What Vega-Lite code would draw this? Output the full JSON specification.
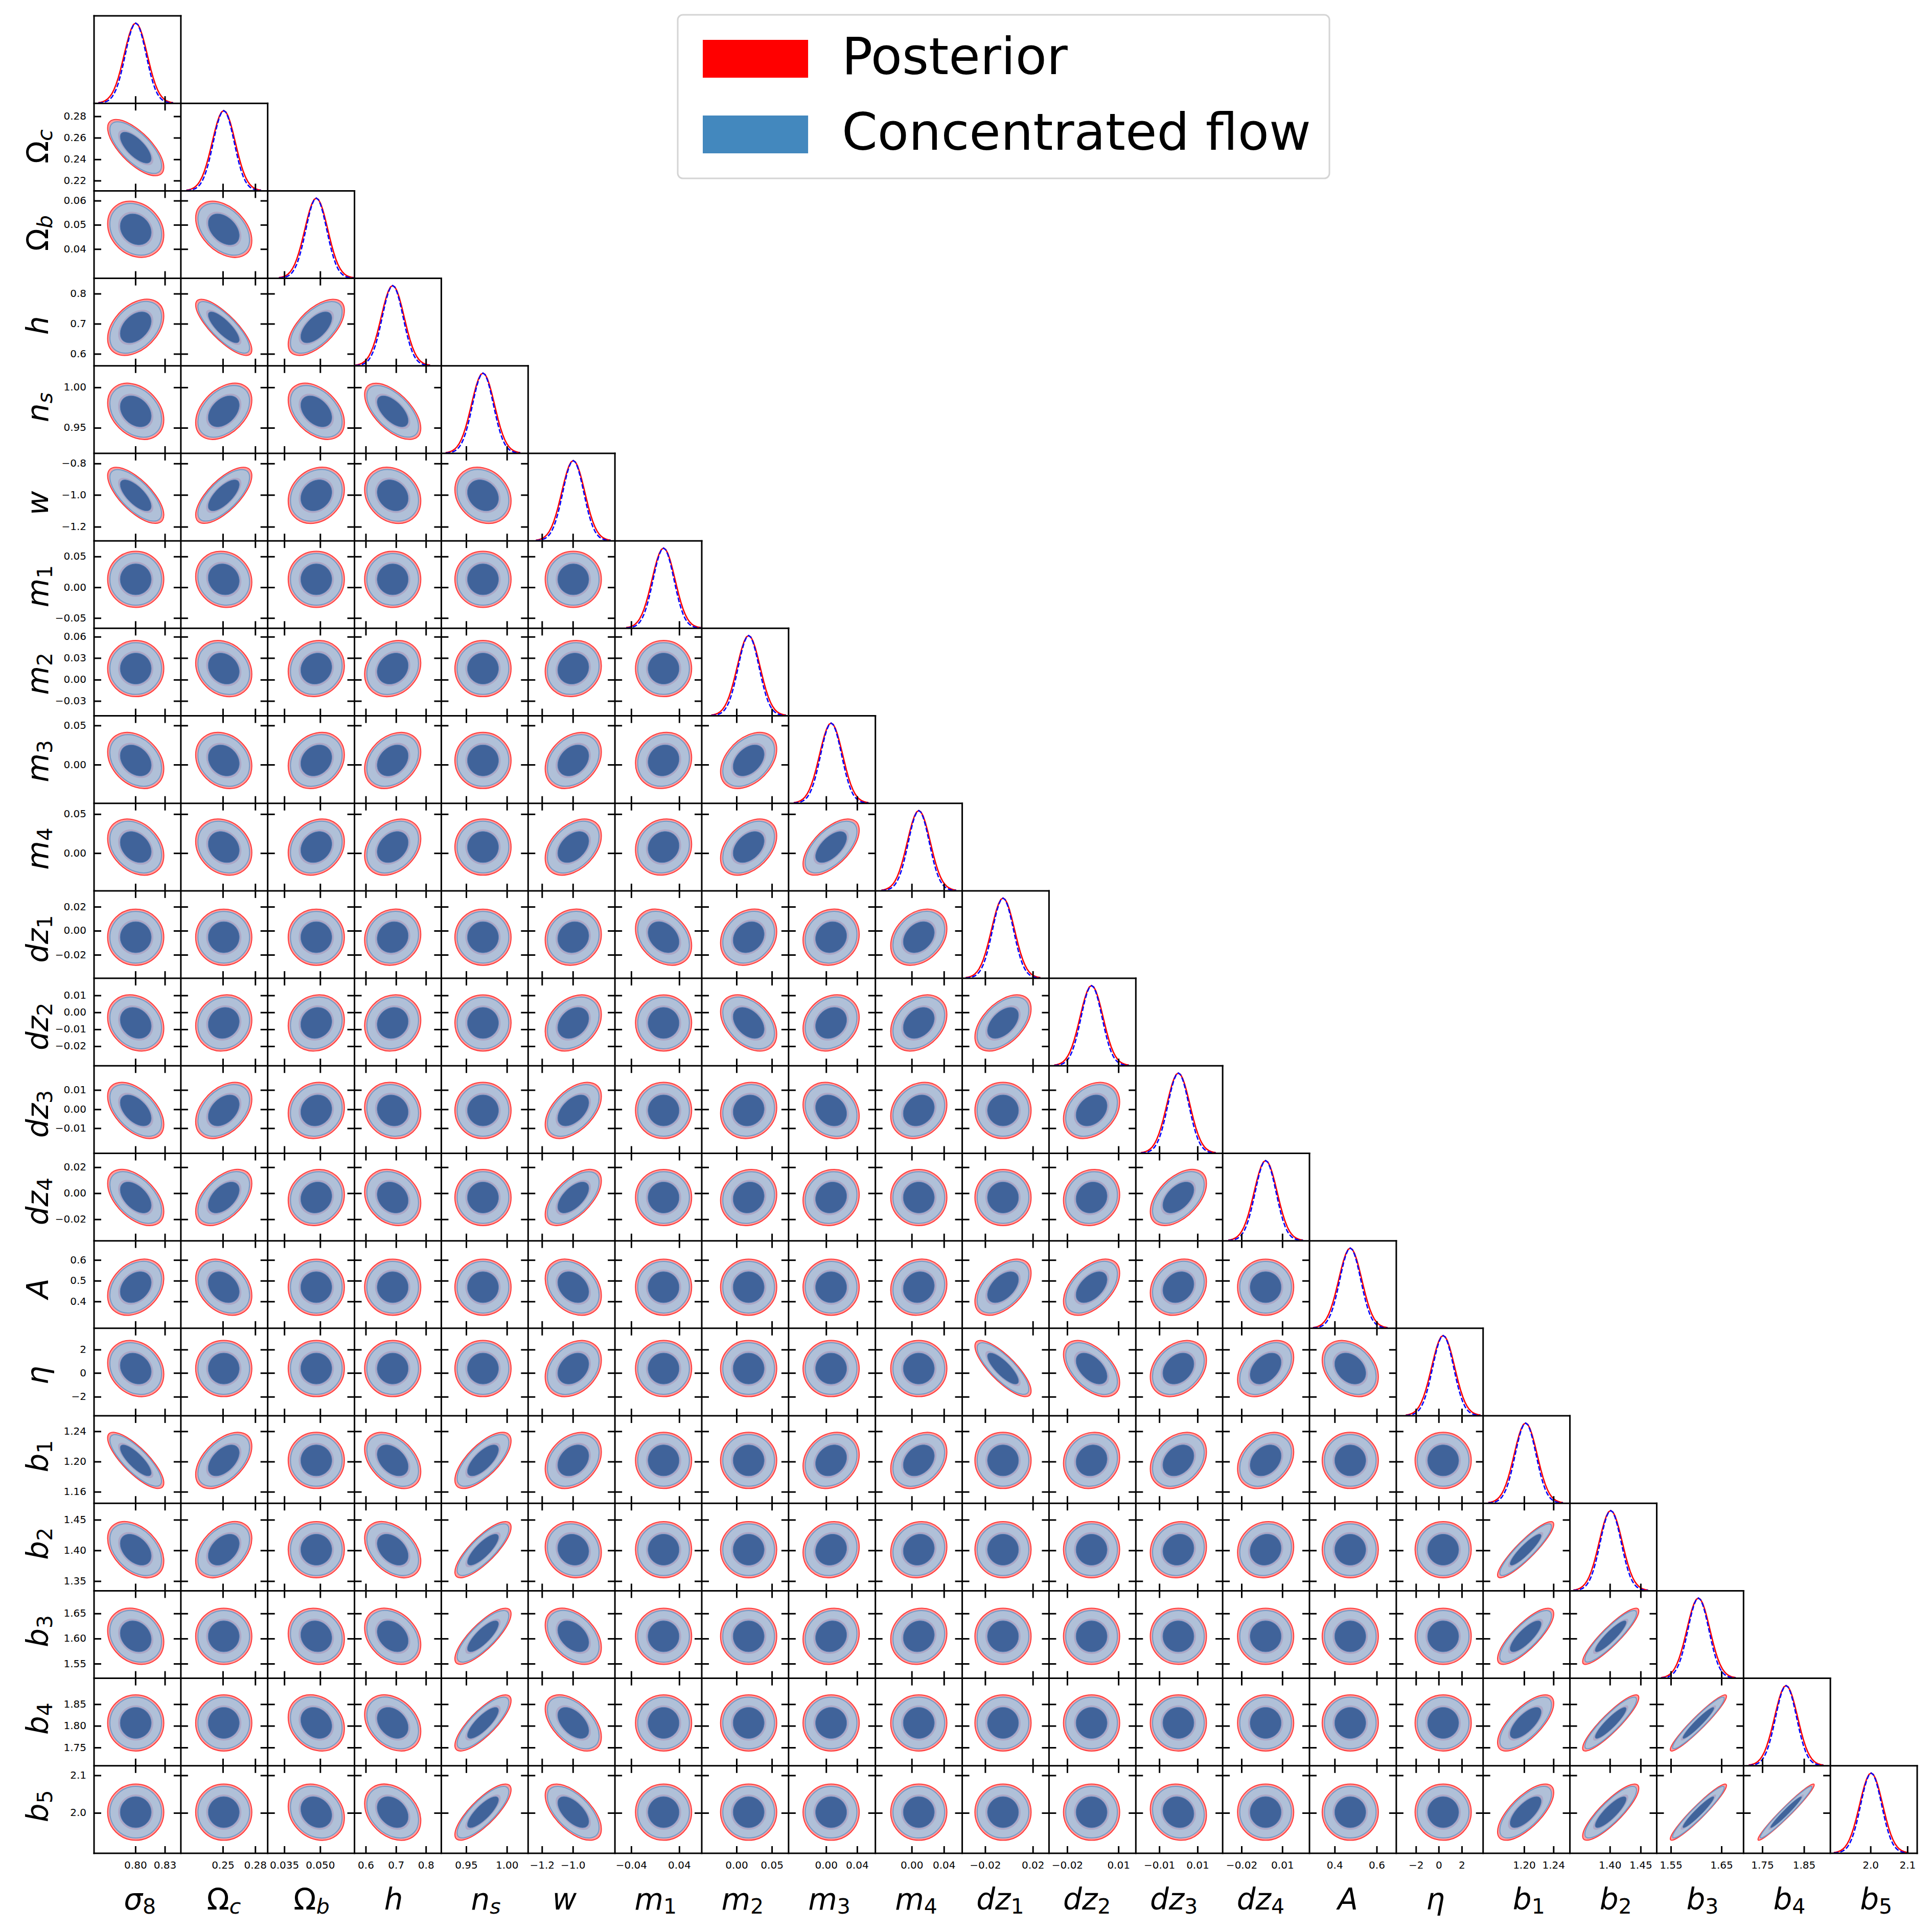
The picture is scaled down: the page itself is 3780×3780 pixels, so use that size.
{
"$schema":"https://vega.github.io/schema/vega-lite/v6.json",
"width":3567,"height":3595,
"autosize":{"type":"none"},
"padding":{"left":184,"top":31,"right":29,"bottom":154},
"background":"white",
"config":{"view":{"stroke":null},"legend":{"strokeWidth":3}},
"datasets":{
"cells":[
{"x":0.48,"y":1.506,"k":-0.7},
{"x":0.48,"y":2.44,"k":-0.2},{"x":1.494,"y":2.44,"k":-0.4},
{"x":0.48,"y":3.56,"k":0.4},{"x":1.494,"y":3.56,"k":-0.8},{"x":2.56,"y":3.56,"k":0.6},
{"x":0.48,"y":4.52,"k":-0.3},{"x":1.494,"y":4.52,"k":0.4},{"x":2.56,"y":4.52,"k":-0.4},{"x":3.44,"y":4.52,"k":-0.6},
{"x":0.48,"y":5.48,"k":-0.7},{"x":1.494,"y":5.48,"k":0.7},{"x":2.56,"y":5.48,"k":0.2},{"x":3.44,"y":5.48,"k":-0.2},{"x":4.48,"y":5.48,"k":-0.2},
{"x":0.48,"y":6.44,"k":0},{"x":1.494,"y":6.44,"k":-0.1},{"x":2.56,"y":6.44,"k":0},{"x":3.44,"y":6.44,"k":0},{"x":4.48,"y":6.44,"k":0},{"x":5.52,"y":6.44,"k":0},
{"x":0.48,"y":7.46,"k":0},{"x":1.494,"y":7.46,"k":-0.2},{"x":2.56,"y":7.46,"k":0.1},{"x":3.44,"y":7.46,"k":0.2},{"x":4.48,"y":7.46,"k":0},{"x":5.52,"y":7.46,"k":0.1},{"x":6.56,"y":7.46,"k":0},
{"x":0.48,"y":8.51,"k":-0.3},{"x":1.494,"y":8.51,"k":-0.2},{"x":2.56,"y":8.51,"k":0.2},{"x":3.44,"y":8.51,"k":0.3},{"x":4.48,"y":8.51,"k":0},{"x":5.52,"y":8.51,"k":0.3},{"x":6.56,"y":8.51,"k":0.1},{"x":7.54,"y":8.51,"k":0.4},
{"x":0.48,"y":9.5,"k":-0.3},{"x":1.494,"y":9.5,"k":-0.2},{"x":2.56,"y":9.5,"k":0.2},{"x":3.44,"y":9.5,"k":0.3},{"x":4.48,"y":9.5,"k":0},{"x":5.52,"y":9.5,"k":0.4},{"x":6.56,"y":9.5,"k":0.1},{"x":7.54,"y":9.5,"k":0.4},{"x":8.49,"y":9.5,"k":0.6},
{"x":0.48,"y":10.53,"k":0},{"x":1.494,"y":10.53,"k":0},{"x":2.56,"y":10.53,"k":0},{"x":3.44,"y":10.53,"k":0.1},{"x":4.48,"y":10.53,"k":0},{"x":5.52,"y":10.53,"k":0.1},{"x":6.56,"y":10.53,"k":-0.3},{"x":7.54,"y":10.53,"k":0.2},{"x":8.49,"y":10.53,"k":0.1},{"x":9.5,"y":10.53,"k":0.3},
{"x":0.48,"y":11.51,"k":-0.2},{"x":1.494,"y":11.51,"k":0.1},{"x":2.56,"y":11.51,"k":0.1},{"x":3.44,"y":11.51,"k":0.1},{"x":4.48,"y":11.51,"k":0},{"x":5.52,"y":11.51,"k":0.3},{"x":6.56,"y":11.51,"k":0},{"x":7.54,"y":11.51,"k":-0.4},{"x":8.49,"y":11.51,"k":0.2},{"x":9.5,"y":11.51,"k":0.3},{"x":10.47,"y":11.51,"k":0.5},
{"x":0.48,"y":12.51,"k":-0.5},{"x":1.494,"y":12.51,"k":0.4},{"x":2.56,"y":12.51,"k":0.1},{"x":3.44,"y":12.51,"k":-0.1},{"x":4.48,"y":12.51,"k":0},{"x":5.52,"y":12.51,"k":0.5},{"x":6.56,"y":12.51,"k":0},{"x":7.54,"y":12.51,"k":0.1},{"x":8.49,"y":12.51,"k":-0.2},{"x":9.5,"y":12.51,"k":0.2},{"x":10.47,"y":12.51,"k":0},{"x":11.49,"y":12.51,"k":0.3},
{"x":0.48,"y":13.505,"k":-0.5},{"x":1.494,"y":13.505,"k":0.5},{"x":2.56,"y":13.505,"k":0.1},{"x":3.44,"y":13.505,"k":-0.2},{"x":4.48,"y":13.505,"k":0},{"x":5.52,"y":13.505,"k":0.6},{"x":6.56,"y":13.505,"k":0},{"x":7.54,"y":13.505,"k":0.1},{"x":8.49,"y":13.505,"k":0.1},{"x":9.5,"y":13.505,"k":0},{"x":10.47,"y":13.505,"k":0},{"x":11.49,"y":13.505,"k":0.1},{"x":12.49,"y":13.505,"k":0.5},
{"x":0.48,"y":14.53,"k":0.3},{"x":1.494,"y":14.53,"k":-0.3},{"x":2.56,"y":14.53,"k":0},{"x":3.44,"y":14.53,"k":0},{"x":4.48,"y":14.53,"k":0},{"x":5.52,"y":14.53,"k":-0.3},{"x":6.56,"y":14.53,"k":0},{"x":7.54,"y":14.53,"k":0},{"x":8.49,"y":14.53,"k":0},{"x":9.5,"y":14.53,"k":0.1},{"x":10.47,"y":14.53,"k":0.5},{"x":11.49,"y":14.53,"k":0.5},{"x":12.49,"y":14.53,"k":0.2},{"x":13.495,"y":14.53,"k":0},
{"x":0.48,"y":15.46,"k":-0.2},{"x":1.494,"y":15.46,"k":0},{"x":2.56,"y":15.46,"k":0},{"x":3.44,"y":15.46,"k":0},{"x":4.48,"y":15.46,"k":0},{"x":5.52,"y":15.46,"k":0.3},{"x":6.56,"y":15.46,"k":0},{"x":7.54,"y":15.46,"k":0},{"x":8.49,"y":15.46,"k":0},{"x":9.5,"y":15.46,"k":0},{"x":10.47,"y":15.46,"k":-0.8},{"x":11.49,"y":15.46,"k":-0.5},{"x":12.49,"y":15.46,"k":0.3},{"x":13.495,"y":15.46,"k":0.4},{"x":14.47,"y":15.46,"k":-0.3},
{"x":0.48,"y":16.51,"k":-0.8},{"x":1.494,"y":16.51,"k":0.5},{"x":2.56,"y":16.51,"k":0},{"x":3.44,"y":16.51,"k":-0.4},{"x":4.48,"y":16.51,"k":0.7},{"x":5.52,"y":16.51,"k":0.3},{"x":6.56,"y":16.51,"k":0},{"x":7.54,"y":16.51,"k":0},{"x":8.49,"y":16.51,"k":0.2},{"x":9.5,"y":16.51,"k":0.3},{"x":10.47,"y":16.51,"k":0},{"x":11.49,"y":16.51,"k":0.1},{"x":12.49,"y":16.51,"k":0.3},{"x":13.495,"y":16.51,"k":0.3},{"x":14.47,"y":16.51,"k":0},{"x":15.54,"y":16.51,"k":0},
{"x":0.48,"y":17.53,"k":-0.4},{"x":1.494,"y":17.53,"k":0.4},{"x":2.56,"y":17.53,"k":0},{"x":3.44,"y":17.53,"k":-0.4},{"x":4.48,"y":17.53,"k":0.8},{"x":5.52,"y":17.53,"k":-0.1},{"x":6.56,"y":17.53,"k":0},{"x":7.54,"y":17.53,"k":0},{"x":8.49,"y":17.53,"k":0.1},{"x":9.5,"y":17.53,"k":0.1},{"x":10.47,"y":17.53,"k":0},{"x":11.49,"y":17.53,"k":0},{"x":12.49,"y":17.53,"k":0.1},{"x":13.495,"y":17.53,"k":0.1},{"x":14.47,"y":17.53,"k":0},{"x":15.54,"y":17.53,"k":0},{"x":16.49,"y":17.53,"k":0.9},
{"x":0.48,"y":18.52,"k":-0.2},{"x":1.494,"y":18.52,"k":0},{"x":2.56,"y":18.52,"k":-0.1},{"x":3.44,"y":18.52,"k":-0.3},{"x":4.48,"y":18.52,"k":0.8},{"x":5.52,"y":18.52,"k":-0.4},{"x":6.56,"y":18.52,"k":0},{"x":7.54,"y":18.52,"k":0},{"x":8.49,"y":18.52,"k":0.1},{"x":9.5,"y":18.52,"k":0.1},{"x":10.47,"y":18.52,"k":0},{"x":11.49,"y":18.52,"k":0},{"x":12.49,"y":18.52,"k":0},{"x":13.495,"y":18.52,"k":0},{"x":14.47,"y":18.52,"k":0},{"x":15.54,"y":18.52,"k":0},{"x":16.49,"y":18.52,"k":0.8},{"x":17.47,"y":18.52,"k":0.9},
{"x":0.48,"y":19.51,"k":0},{"x":1.494,"y":19.51,"k":0},{"x":2.56,"y":19.51,"k":-0.2},{"x":3.44,"y":19.51,"k":-0.3},{"x":4.48,"y":19.51,"k":0.8},{"x":5.52,"y":19.51,"k":-0.5},{"x":6.56,"y":19.51,"k":0},{"x":7.54,"y":19.51,"k":0},{"x":8.49,"y":19.51,"k":0},{"x":9.5,"y":19.51,"k":0},{"x":10.47,"y":19.51,"k":0},{"x":11.49,"y":19.51,"k":0},{"x":12.49,"y":19.51,"k":0},{"x":13.495,"y":19.51,"k":0},{"x":14.47,"y":19.51,"k":0},{"x":15.54,"y":19.51,"k":0},{"x":16.49,"y":19.51,"k":0.7},{"x":17.47,"y":19.51,"k":0.9},{"x":18.48,"y":19.51,"k":0.95},
{"x":0.48,"y":20.53,"k":0},{"x":1.494,"y":20.53,"k":0},{"x":2.56,"y":20.53,"k":-0.2},{"x":3.44,"y":20.53,"k":-0.3},{"x":4.48,"y":20.53,"k":0.8},{"x":5.52,"y":20.53,"k":-0.6},{"x":6.56,"y":20.53,"k":0},{"x":7.54,"y":20.53,"k":0},{"x":8.49,"y":20.53,"k":0},{"x":9.5,"y":20.53,"k":0},{"x":10.47,"y":20.53,"k":0},{"x":11.49,"y":20.53,"k":0},{"x":12.49,"y":20.53,"k":-0.1},{"x":13.495,"y":20.53,"k":0},{"x":14.47,"y":20.53,"k":0},{"x":15.54,"y":20.53,"k":0},{"x":16.49,"y":20.53,"k":0.7},{"x":17.47,"y":20.53,"k":0.85},{"x":18.48,"y":20.53,"k":0.95},{"x":19.49,"y":20.53,"k":0.97}
],
"diag":[
{"x":0.48,"y":0.5},{"x":1.494,"y":1.5},{"x":2.56,"y":2.5},{"x":3.44,"y":3.5},{"x":4.48,"y":4.5},{"x":5.52,"y":5.5},{"x":6.56,"y":6.5},{"x":7.54,"y":7.5},{"x":8.49,"y":8.5},{"x":9.5,"y":9.5},{"x":10.47,"y":10.5},{"x":11.49,"y":11.5},{"x":12.49,"y":12.5},{"x":13.495,"y":13.5},{"x":14.47,"y":14.5},{"x":15.54,"y":15.5},{"x":16.49,"y":16.5},{"x":17.47,"y":17.5},{"x":18.48,"y":18.5},{"x":19.49,"y":19.5},{"x":20.47,"y":20.5}
],
"gh":[
{"x":0,"x2":1,"y":0},{"x":0,"x2":2,"y":1},{"x":0,"x2":3,"y":2},{"x":0,"x2":4,"y":3},{"x":0,"x2":5,"y":4},{"x":0,"x2":6,"y":5},{"x":0,"x2":7,"y":6},{"x":0,"x2":8,"y":7},{"x":0,"x2":9,"y":8},{"x":0,"x2":10,"y":9},{"x":0,"x2":11,"y":10},{"x":0,"x2":12,"y":11},{"x":0,"x2":13,"y":12},{"x":0,"x2":14,"y":13},{"x":0,"x2":15,"y":14},{"x":0,"x2":16,"y":15},{"x":0,"x2":17,"y":16},{"x":0,"x2":18,"y":17},{"x":0,"x2":19,"y":18},{"x":0,"x2":20,"y":19},{"x":0,"x2":21,"y":20},{"x":0,"x2":21,"y":21}
],
"gv":[
{"x":0,"y":0,"y2":21},{"x":1,"y":0,"y2":21},{"x":2,"y":1,"y2":21},{"x":3,"y":2,"y2":21},{"x":4,"y":3,"y2":21},{"x":5,"y":4,"y2":21},{"x":6,"y":5,"y2":21},{"x":7,"y":6,"y2":21},{"x":8,"y":7,"y2":21},{"x":9,"y":8,"y2":21},{"x":10,"y":9,"y2":21},{"x":11,"y":10,"y2":21},{"x":12,"y":11,"y2":21},{"x":13,"y":12,"y2":21},{"x":14,"y":13,"y2":21},{"x":15,"y":14,"y2":21},{"x":16,"y":15,"y2":21},{"x":17,"y":16,"y2":21},{"x":18,"y":17,"y2":21},{"x":19,"y":18,"y2":21},{"x":20,"y":19,"y2":21},{"x":21,"y":20,"y2":21}
],
"xt":[
{"x":0.479,"t":"0.80","ys":[1,2,3,4,5,6,7,8,9,10,11,12,13,14,15,16,17,18,19,20]},
{"x":0.818,"t":"0.83","ys":[1,2,3,4,5,6,7,8,9,10,11,12,13,14,15,16,17,18,19,20]},
{"x":1.486,"t":"0.25","ys":[2,3,4,5,6,7,8,9,10,11,12,13,14,15,16,17,18,19,20]},
{"x":1.859,"t":"0.28","ys":[2,3,4,5,6,7,8,9,10,11,12,13,14,15,16,17,18,19,20]},
{"x":2.194,"t":"0.035","ys":[3,4,5,6,7,8,9,10,11,12,13,14,15,16,17,18,19,20]},
{"x":2.607,"t":"0.050","ys":[3,4,5,6,7,8,9,10,11,12,13,14,15,16,17,18,19,20]},
{"x":3.132,"t":"0.6","ys":[4,5,6,7,8,9,10,11,12,13,14,15,16,17,18,19,20]},
{"x":3.481,"t":"0.7","ys":[4,5,6,7,8,9,10,11,12,13,14,15,16,17,18,19,20]},
{"x":3.825,"t":"0.8","ys":[4,5,6,7,8,9,10,11,12,13,14,15,16,17,18,19,20]},
{"x":4.289,"t":"0.95","ys":[5,6,7,8,9,10,11,12,13,14,15,16,17,18,19,20]},
{"x":4.758,"t":"1.00","ys":[5,6,7,8,9,10,11,12,13,14,15,16,17,18,19,20]},
{"x":5.162,"t":"−1.2","ys":[6,7,8,9,10,11,12,13,14,15,16,17,18,19,20]},
{"x":5.518,"t":"−1.0","ys":[6,7,8,9,10,11,12,13,14,15,16,17,18,19,20]},
{"x":6.19,"t":"−0.04","ys":[7,8,9,10,11,12,13,14,15,16,17,18,19,20]},
{"x":6.743,"t":"0.04","ys":[7,8,9,10,11,12,13,14,15,16,17,18,19,20]},
{"x":7.403,"t":"0.00","ys":[8,9,10,11,12,13,14,15,16,17,18,19,20]},
{"x":7.81,"t":"0.05","ys":[8,9,10,11,12,13,14,15,16,17,18,19,20]},
{"x":8.435,"t":"0.00","ys":[9,10,11,12,13,14,15,16,17,18,19,20]},
{"x":8.792,"t":"0.04","ys":[9,10,11,12,13,14,15,16,17,18,19,20]},
{"x":9.421,"t":"0.00","ys":[10,11,12,13,14,15,16,17,18,19,20]},
{"x":9.792,"t":"0.04","ys":[10,11,12,13,14,15,16,17,18,19,20]},
{"x":10.267,"t":"−0.02","ys":[11,12,13,14,15,16,17,18,19,20]},
{"x":10.816,"t":"0.02","ys":[11,12,13,14,15,16,17,18,19,20]},
{"x":11.212,"t":"−0.02","ys":[12,13,14,15,16,17,18,19,20]},
{"x":11.802,"t":"0.01","ys":[12,13,14,15,16,17,18,19,20]},
{"x":12.273,"t":"−0.01","ys":[13,14,15,16,17,18,19,20]},
{"x":12.713,"t":"0.01","ys":[13,14,15,16,17,18,19,20]},
{"x":13.22,"t":"−0.02","ys":[14,15,16,17,18,19,20]},
{"x":13.69,"t":"0.01","ys":[14,15,16,17,18,19,20]},
{"x":14.293,"t":"0.4","ys":[15,16,17,18,19,20]},
{"x":14.777,"t":"0.6","ys":[15,16,17,18,19,20]},
{"x":15.229,"t":"−2","ys":[16,17,18,19,20]},
{"x":15.491,"t":"0","ys":[16,17,18,19,20]},
{"x":15.757,"t":"2","ys":[16,17,18,19,20]},
{"x":16.475,"t":"1.20","ys":[17,18,19,20]},
{"x":16.813,"t":"1.24","ys":[17,18,19,20]},
{"x":17.463,"t":"1.40","ys":[18,19,20]},
{"x":17.817,"t":"1.45","ys":[18,19,20]},
{"x":18.165,"t":"1.55","ys":[19,20]},
{"x":18.748,"t":"1.65","ys":[19,20]},
{"x":19.219,"t":"1.75","ys":[20]},
{"x":19.699,"t":"1.85","ys":[20]},
{"x":20.465,"t":"2.0","ys":[]},
{"x":20.89,"t":"2.1","ys":[]}
],
"yt":[
{"y":1.151,"t":"0.28","xs":[],"xr":1},{"y":1.396,"t":"0.26","xs":[],"xr":1},{"y":1.643,"t":"0.24","xs":[],"xr":1},{"y":1.886,"t":"0.22","xs":[],"xr":1},
{"y":2.115,"t":"0.06","xs":[1],"xr":2},{"y":2.391,"t":"0.05","xs":[1],"xr":2},{"y":2.668,"t":"0.04","xs":[1],"xr":2},
{"y":3.178,"t":"0.8","xs":[1,2],"xr":3},{"y":3.522,"t":"0.7","xs":[1,2],"xr":3},{"y":3.866,"t":"0.6","xs":[1,2],"xr":3},
{"y":4.249,"t":"1.00","xs":[1,2,3],"xr":4},{"y":4.711,"t":"0.95","xs":[1,2,3],"xr":4},
{"y":5.119,"t":"−0.8","xs":[1,2,3,4],"xr":5},{"y":5.478,"t":"−1.0","xs":[1,2,3,4],"xr":5},{"y":5.842,"t":"−1.2","xs":[1,2,3,4],"xr":5},
{"y":6.182,"t":"0.05","xs":[1,2,3,4,5],"xr":6},{"y":6.534,"t":"0.00","xs":[1,2,3,4,5],"xr":6},{"y":6.885,"t":"−0.05","xs":[1,2,3,4,5],"xr":6},
{"y":7.099,"t":"0.06","xs":[1,2,3,4,5,6],"xr":7},{"y":7.342,"t":"0.03","xs":[1,2,3,4,5,6],"xr":7},{"y":7.59,"t":"0.00","xs":[1,2,3,4,5,6],"xr":7},{"y":7.833,"t":"−0.03","xs":[1,2,3,4,5,6],"xr":7},
{"y":8.113,"t":"0.05","xs":[1,2,3,4,5,6,7],"xr":8},{"y":8.561,"t":"0.00","xs":[1,2,3,4,5,6,7],"xr":8},
{"y":9.126,"t":"0.05","xs":[1,2,3,4,5,6,7,8],"xr":9},{"y":9.572,"t":"0.00","xs":[1,2,3,4,5,6,7,8],"xr":9},
{"y":10.185,"t":"0.02","xs":[1,2,3,4,5,6,7,8,9],"xr":10},{"y":10.459,"t":"0.00","xs":[1,2,3,4,5,6,7,8,9],"xr":10},{"y":10.734,"t":"−0.02","xs":[1,2,3,4,5,6,7,8,9],"xr":10},
{"y":11.198,"t":"0.01","xs":[1,2,3,4,5,6,7,8,9,10],"xr":11},{"y":11.392,"t":"0.00","xs":[1,2,3,4,5,6,7,8,9,10],"xr":11},{"y":11.586,"t":"−0.01","xs":[1,2,3,4,5,6,7,8,9,10],"xr":11},{"y":11.779,"t":"−0.02","xs":[1,2,3,4,5,6,7,8,9,10],"xr":11},
{"y":12.279,"t":"0.01","xs":[1,2,3,4,5,6,7,8,9,10,11],"xr":12},{"y":12.5,"t":"0.00","xs":[1,2,3,4,5,6,7,8,9,10,11],"xr":12},{"y":12.716,"t":"−0.01","xs":[1,2,3,4,5,6,7,8,9,10,11],"xr":12},
{"y":13.162,"t":"0.02","xs":[1,2,3,4,5,6,7,8,9,10,11,12],"xr":13},{"y":13.459,"t":"0.00","xs":[1,2,3,4,5,6,7,8,9,10,11,12],"xr":13},{"y":13.757,"t":"−0.02","xs":[1,2,3,4,5,6,7,8,9,10,11,12],"xr":13},
{"y":14.222,"t":"0.6","xs":[1,2,3,4,5,6,7,8,9,10,11,12,13],"xr":14},{"y":14.459,"t":"0.5","xs":[1,2,3,4,5,6,7,8,9,10,11,12,13],"xr":14},{"y":14.696,"t":"0.4","xs":[1,2,3,4,5,6,7,8,9,10,11,12,13],"xr":14},
{"y":15.246,"t":"2","xs":[1,2,3,4,5,6,7,8,9,10,11,12,13,14],"xr":15},{"y":15.513,"t":"0","xs":[1,2,3,4,5,6,7,8,9,10,11,12,13,14],"xr":15},{"y":15.785,"t":"−2","xs":[1,2,3,4,5,6,7,8,9,10,11,12,13,14],"xr":15},
{"y":16.18,"t":"1.24","xs":[1,2,3,4,5,6,7,8,9,10,11,12,13,14,15],"xr":16},{"y":16.526,"t":"1.20","xs":[1,2,3,4,5,6,7,8,9,10,11,12,13,14,15],"xr":16},{"y":16.871,"t":"1.16","xs":[1,2,3,4,5,6,7,8,9,10,11,12,13,14,15],"xr":16},
{"y":17.191,"t":"1.45","xs":[1,2,3,4,5,6,7,8,9,10,11,12,13,14,15,16],"xr":17},{"y":17.541,"t":"1.40","xs":[1,2,3,4,5,6,7,8,9,10,11,12,13,14,15,16],"xr":17},{"y":17.892,"t":"1.35","xs":[1,2,3,4,5,6,7,8,9,10,11,12,13,14,15,16],"xr":17},
{"y":18.262,"t":"1.65","xs":[1,2,3,4,5,6,7,8,9,10,11,12,13,14,15,16,17],"xr":18},{"y":18.549,"t":"1.60","xs":[1,2,3,4,5,6,7,8,9,10,11,12,13,14,15,16,17],"xr":18},{"y":18.836,"t":"1.55","xs":[1,2,3,4,5,6,7,8,9,10,11,12,13,14,15,16,17],"xr":18},
{"y":19.299,"t":"1.85","xs":[1,2,3,4,5,6,7,8,9,10,11,12,13,14,15,16,17,18],"xr":19},{"y":19.546,"t":"1.80","xs":[1,2,3,4,5,6,7,8,9,10,11,12,13,14,15,16,17,18],"xr":19},{"y":19.794,"t":"1.75","xs":[1,2,3,4,5,6,7,8,9,10,11,12,13,14,15,16,17,18],"xr":19},
{"y":20.112,"t":"2.1","xs":[1,2,3,4,5,6,7,8,9,10,11,12,13,14,15,16,17,18,19],"xr":20},{"y":20.541,"t":"2.0","xs":[1,2,3,4,5,6,7,8,9,10,11,12,13,14,15,16,17,18,19],"xr":20}
],
"par":[
{"i":0,"p":0.5,"m":"σ","s":"8"},{"i":1,"p":1.5,"m":"Ω","s":"c"},{"i":2,"p":2.5,"m":"Ω","s":"b"},{"i":3,"p":3.5,"m":"h","s":""},{"i":4,"p":4.5,"m":"n","s":"s"},{"i":5,"p":5.5,"m":"w","s":""},{"i":6,"p":6.5,"m":"m","s":"1"},{"i":7,"p":7.5,"m":"m","s":"2"},{"i":8,"p":8.5,"m":"m","s":"3"},{"i":9,"p":9.5,"m":"m","s":"4"},{"i":10,"p":10.5,"m":"dz","s":"1"},{"i":11,"p":11.5,"m":"dz","s":"2"},{"i":12,"p":12.5,"m":"dz","s":"3"},{"i":13,"p":13.5,"m":"dz","s":"4"},{"i":14,"p":14.5,"m":"A","s":""},{"i":15,"p":15.5,"m":"η","s":""},{"i":16,"p":16.5,"m":"b","s":"1"},{"i":17,"p":17.5,"m":"b","s":"2"},{"i":18,"p":18.5,"m":"b","s":"3"},{"i":19,"p":19.5,"m":"b","s":"4"},{"i":20,"p":20.5,"m":"b","s":"5"}
]
},
"layer":[
{"data":{"name":"cells"},
"encoding":{
"x":{"field":"x","type":"quantitative","scale":{"domain":[0,21],"nice":false,"zero":false},"axis":null},
"y":{"field":"y","type":"quantitative","scale":{"domain":[0,21],"nice":false,"zero":false,"reverse":true},"axis":null},
"shape":{"field":"k","type":"ordinal","legend":null,"scale":{
"domain":[-0.8,-0.7,-0.6,-0.5,-0.4,-0.3,-0.2,-0.1,0,0.1,0.2,0.3,0.4,0.5,0.6,0.7,0.8,0.85,0.9,0.95,0.97],
"range":[
"M1,0.8C1,0.469 0.552,-0.158 0,-0.6C-0.552,-1.042 -1,-1.131 -1,-0.8C-1,-0.469 -0.552,0.158 0,0.6C0.552,1.042 1,1.131 1,0.8Z",
"M1,0.7C1,0.306 0.552,-0.328 0,-0.714C-0.552,-1.101 -1,-1.094 -1,-0.7C-1,-0.306 -0.552,0.328 0,0.714C0.552,1.101 1,1.094 1,0.7Z",
"M1,0.6C1,0.158 0.552,-0.469 0,-0.8C-0.552,-1.131 -1,-1.042 -1,-0.6C-1,-0.158 -0.552,0.469 0,0.8C0.552,1.131 1,1.042 1,0.6Z",
"M1,0.5C1,0.022 0.552,-0.59 0,-0.866C-0.552,-1.142 -1,-0.978 -1,-0.5C-1,-0.022 -0.552,0.59 0,0.866C0.552,1.142 1,0.978 1,0.5Z",
"M1,0.4C1,-0.106 0.552,-0.696 0,-0.917C-0.552,-1.137 -1,-0.906 -1,-0.4C-1,0.106 -0.552,0.696 0,0.917C0.552,1.137 1,0.906 1,0.4Z",
"M1,0.3C1,-0.227 0.552,-0.788 0,-0.954C-0.552,-1.12 -1,-0.827 -1,-0.3C-1,0.227 -0.552,0.788 0,0.954C0.552,1.12 1,0.827 1,0.3Z",
"M1,0.2C1,-0.341 0.552,-0.869 0,-0.98C-0.552,-1.09 -1,-0.741 -1,-0.2C-1,0.341 -0.552,0.869 0,0.98C0.552,1.09 1,0.741 1,0.2Z",
"M1,0.1C1,-0.449 0.552,-0.94 0,-0.995C-0.552,-1.05 -1,-0.649 -1,-0.1C-1,0.449 -0.552,0.94 0,0.995C0.552,1.05 1,0.649 1,0.1Z",
"M1,0C1,-0.552 0.552,-1 0,-1C-0.552,-1 -1,-0.552 -1,0C-1,0.552 -0.552,1 0,1C0.552,1 1,0.552 1,0Z",
"M1,-0.1C1,-0.649 0.552,-1.05 0,-0.995C-0.552,-0.94 -1,-0.449 -1,0.1C-1,0.649 -0.552,1.05 0,0.995C0.552,0.94 1,0.449 1,-0.1Z",
"M1,-0.2C1,-0.741 0.552,-1.09 0,-0.98C-0.552,-0.869 -1,-0.341 -1,0.2C-1,0.741 -0.552,1.09 0,0.98C0.552,0.869 1,0.341 1,-0.2Z",
"M1,-0.3C1,-0.827 0.552,-1.12 0,-0.954C-0.552,-0.788 -1,-0.227 -1,0.3C-1,0.827 -0.552,1.12 0,0.954C0.552,0.788 1,0.227 1,-0.3Z",
"M1,-0.4C1,-0.906 0.552,-1.137 0,-0.917C-0.552,-0.696 -1,-0.106 -1,0.4C-1,0.906 -0.552,1.137 0,0.917C0.552,0.696 1,0.106 1,-0.4Z",
"M1,-0.5C1,-0.978 0.552,-1.142 0,-0.866C-0.552,-0.59 -1,0.022 -1,0.5C-1,0.978 -0.552,1.142 0,0.866C0.552,0.59 1,-0.022 1,-0.5Z",
"M1,-0.6C1,-1.042 0.552,-1.131 0,-0.8C-0.552,-0.469 -1,0.158 -1,0.6C-1,1.042 -0.552,1.131 0,0.8C0.552,0.469 1,-0.158 1,-0.6Z",
"M1,-0.7C1,-1.094 0.552,-1.101 0,-0.714C-0.552,-0.328 -1,0.306 -1,0.7C-1,1.094 -0.552,1.101 0,0.714C0.552,0.328 1,-0.306 1,-0.7Z",
"M1,-0.8C1,-1.131 0.552,-1.042 0,-0.6C-0.552,-0.158 -1,0.469 -1,0.8C-1,1.131 -0.552,1.042 0,0.6C0.552,0.158 1,-0.469 1,-0.8Z",
"M1,-0.85C1,-1.141 0.552,-0.996 0,-0.527C-0.552,-0.058 -1,0.559 -1,0.85C-1,1.141 -0.552,0.996 0,0.527C0.552,0.058 1,-0.559 1,-0.85Z",
"M1,-0.9C1,-1.141 0.552,-0.933 0,-0.436C-0.552,0.061 -1,0.659 -1,0.9C-1,1.141 -0.552,0.933 0,0.436C0.552,-0.061 1,-0.659 1,-0.9Z",
"M1,-0.95C1,-1.122 0.552,-0.837 0,-0.312C-0.552,0.212 -1,0.778 -1,0.95C-1,1.122 -0.552,0.837 0,0.312C0.552,-0.212 1,-0.778 1,-0.95Z",
"M1,-0.97C1,-1.104 0.552,-0.779 0,-0.243C-0.552,0.292 -1,0.836 -1,0.97C-1,1.104 -0.552,0.779 0,0.243C0.552,-0.292 1,-0.836 1,-0.97Z"
]}}},
"layer":[
{"mark":{"type":"point","size":12100,"filled":true,"fill":"#ff9e9e","stroke":"#ff3c3c","strokeWidth":2,"opacity":1}},
{"mark":{"type":"point","size":10201,"filled":true,"fill":"#b0c0d8","stroke":"#709ac8","strokeWidth":2,"opacity":1}},
{"mark":{"type":"point","size":4761,"filled":true,"fill":"#aca7c6","strokeWidth":0,"opacity":1}},
{"mark":{"type":"point","size":3721,"filled":true,"fill":"#40639a","stroke":"#5785bb","strokeWidth":1,"opacity":1}}
]},
{"data":{"name":"diag"},
"encoding":{
"x":{"field":"x","type":"quantitative","scale":{"domain":[0,21],"nice":false,"zero":false},"axis":null},
"y":{"field":"y","type":"quantitative","scale":{"domain":[0,21],"nice":false,"zero":false,"reverse":true},"axis":null}},
"layer":[
{"mark":{"type":"point","size":28900,"filled":false,"stroke":"#ff0000","strokeWidth":2.6,"opacity":1,"shape":"M-0.86,0.99L-0.8,0.981L-0.75,0.966L-0.7,0.944L-0.65,0.909L-0.6,0.858L-0.55,0.787L-0.5,0.69L-0.45,0.565L-0.4,0.411L-0.35,0.231L-0.3,0.03L-0.25,-0.179L-0.2,-0.384L-0.15,-0.568L-0.1,-0.714L-0.05,-0.808L0,-0.84L0.05,-0.808L0.1,-0.714L0.15,-0.568L0.2,-0.384L0.25,-0.179L0.3,0.03L0.35,0.231L0.4,0.411L0.45,0.565L0.5,0.69L0.55,0.787L0.6,0.858L0.65,0.909L0.7,0.944L0.75,0.966L0.8,0.981L0.86,0.99"}},
{"mark":{"type":"point","size":28900,"filled":false,"stroke":"#0000ff","strokeWidth":2.6,"strokeDash":[9,4],"opacity":1,"shape":"M-0.86,0.998L-0.8,0.993L-0.75,0.986L-0.7,0.974L-0.65,0.953L-0.6,0.919L-0.55,0.867L-0.5,0.79L-0.45,0.683L-0.4,0.541L-0.35,0.365L-0.3,0.158L-0.25,-0.07L-0.2,-0.3L-0.15,-0.514L-0.1,-0.687L-0.05,-0.8L0,-0.84L0.05,-0.8L0.1,-0.687L0.15,-0.514L0.2,-0.3L0.25,-0.07L0.3,0.158L0.35,0.365L0.4,0.541L0.45,0.683L0.5,0.79L0.55,0.867L0.6,0.919L0.65,0.953L0.7,0.974L0.75,0.986L0.8,0.993L0.86,0.998"}}
]},
{"data":{"name":"gh"},"mark":{"type":"rule","stroke":"black","strokeWidth":3,"strokeCap":"square"},
"encoding":{"x":{"field":"x","type":"quantitative","scale":{"domain":[0,21],"nice":false,"zero":false},"axis":null},"x2":{"field":"x2"},
"y":{"field":"y","type":"quantitative","scale":{"domain":[0,21],"nice":false,"zero":false,"reverse":true},"axis":null}}},
{"data":{"name":"gv"},"mark":{"type":"rule","stroke":"black","strokeWidth":3,"strokeCap":"square"},
"encoding":{"x":{"field":"x","type":"quantitative","scale":{"domain":[0,21],"nice":false,"zero":false},"axis":null},
"y":{"field":"y","type":"quantitative","scale":{"domain":[0,21],"nice":false,"zero":false,"reverse":true},"axis":null},"y2":{"field":"y2"}}},
{"data":{"name":"xt"},"transform":[{"flatten":["ys"],"as":["yb"]}],
"mark":{"type":"point","shape":"M0,-1L0,1","size":784,"filled":false,"stroke":"black","strokeWidth":3,"opacity":1},
"encoding":{"x":{"field":"x","type":"quantitative","scale":{"domain":[0,21],"nice":false,"zero":false},"axis":null},
"y":{"field":"yb","type":"quantitative","scale":{"domain":[0,21],"nice":false,"zero":false,"reverse":true},"axis":null}}},
{"data":{"name":"xt"},
"mark":{"type":"point","shape":"M0,0L0,-1","size":784,"filled":false,"stroke":"black","strokeWidth":3,"opacity":1},
"encoding":{"x":{"field":"x","type":"quantitative","scale":{"domain":[0,21],"nice":false,"zero":false},"axis":null},
"y":{"datum":21,"type":"quantitative","scale":{"domain":[0,21],"nice":false,"zero":false,"reverse":true},"axis":null}}},
{"data":{"name":"yt"},"transform":[{"flatten":["xs"],"as":["xb"]}],
"mark":{"type":"point","shape":"M-1,0L1,0","size":784,"filled":false,"stroke":"black","strokeWidth":3,"opacity":1},
"encoding":{"x":{"field":"xb","type":"quantitative","scale":{"domain":[0,21],"nice":false,"zero":false},"axis":null},
"y":{"field":"y","type":"quantitative","scale":{"domain":[0,21],"nice":false,"zero":false,"reverse":true},"axis":null}}},
{"data":{"name":"yt"},
"mark":{"type":"point","shape":"M0,0L1,0","size":784,"filled":false,"stroke":"black","strokeWidth":3,"opacity":1},
"encoding":{"x":{"datum":0,"type":"quantitative","scale":{"domain":[0,21],"nice":false,"zero":false},"axis":null},
"y":{"field":"y","type":"quantitative","scale":{"domain":[0,21],"nice":false,"zero":false,"reverse":true},"axis":null}}},
{"data":{"name":"yt"},
"mark":{"type":"point","shape":"M0,0L-1,0","size":784,"filled":false,"stroke":"black","strokeWidth":3,"opacity":1},
"encoding":{"x":{"field":"xr","type":"quantitative","scale":{"domain":[0,21],"nice":false,"zero":false},"axis":null},
"y":{"field":"y","type":"quantitative","scale":{"domain":[0,21],"nice":false,"zero":false,"reverse":true},"axis":null}}},
{"data":{"name":"xt"},
"mark":{"type":"text","font":"DejaVu Sans","fontSize":20,"align":"center","baseline":"alphabetic","dy":30,"fill":"black"},
"encoding":{"x":{"field":"x","type":"quantitative","scale":{"domain":[0,21],"nice":false,"zero":false},"axis":null},
"y":{"datum":21,"type":"quantitative","scale":{"domain":[0,21],"nice":false,"zero":false,"reverse":true},"axis":null},"text":{"field":"t","type":"nominal"}}},
{"data":{"name":"yt"},
"mark":{"type":"text","font":"DejaVu Sans","fontSize":20,"align":"right","baseline":"middle","dx":-15,"fill":"black"},
"encoding":{"x":{"datum":0,"type":"quantitative","scale":{"domain":[0,21],"nice":false,"zero":false},"axis":null},
"y":{"field":"y","type":"quantitative","scale":{"domain":[0,21],"nice":false,"zero":false,"reverse":true},"axis":null},"text":{"field":"t","type":"nominal"}}},
{"data":{"name":"par"},"transform":[{"filter":"datum.m != 'Ω'"}],
"mark":{"type":"text","font":"DejaVu Sans","fontStyle":"italic","fontSize":58,"align":"right","baseline":"alphabetic","dx":10,"dy":110,"fill":"black"},
"encoding":{"x":{"field":"p","type":"quantitative","scale":{"domain":[0,21],"nice":false,"zero":false},"axis":null},
"y":{"datum":21,"type":"quantitative","scale":{"domain":[0,21],"nice":false,"zero":false,"reverse":true},"axis":null},"text":{"field":"m","type":"nominal"}}},
{"data":{"name":"par"},"transform":[{"filter":"datum.m == 'Ω'"}],
"mark":{"type":"text","font":"DejaVu Sans","fontSize":58,"align":"right","baseline":"alphabetic","dx":10,"dy":110,"fill":"black"},
"encoding":{"x":{"field":"p","type":"quantitative","scale":{"domain":[0,21],"nice":false,"zero":false},"axis":null},
"y":{"datum":21,"type":"quantitative","scale":{"domain":[0,21],"nice":false,"zero":false,"reverse":true},"axis":null},"text":{"field":"m","type":"nominal"}}},
{"data":{"name":"par"},"transform":[{"filter":"datum.s >= 'a'"}],
"mark":{"type":"text","font":"DejaVu Sans","fontStyle":"italic","fontSize":41,"align":"left","baseline":"alphabetic","dx":10,"dy":118,"fill":"black"},
"encoding":{"x":{"field":"p","type":"quantitative","scale":{"domain":[0,21],"nice":false,"zero":false},"axis":null},
"y":{"datum":21,"type":"quantitative","scale":{"domain":[0,21],"nice":false,"zero":false,"reverse":true},"axis":null},"text":{"field":"s","type":"nominal"}}},
{"data":{"name":"par"},"transform":[{"filter":"datum.s >= '0' && datum.s <= '9'"}],
"mark":{"type":"text","font":"DejaVu Sans","fontSize":41,"align":"left","baseline":"alphabetic","dx":10,"dy":118,"fill":"black"},
"encoding":{"x":{"field":"p","type":"quantitative","scale":{"domain":[0,21],"nice":false,"zero":false},"axis":null},
"y":{"datum":21,"type":"quantitative","scale":{"domain":[0,21],"nice":false,"zero":false,"reverse":true},"axis":null},"text":{"field":"s","type":"nominal"}}},
{"data":{"name":"par"},"transform":[{"filter":"datum.i > 0 && datum.m != 'Ω'"}],
"mark":{"type":"text","font":"DejaVu Sans","fontStyle":"italic","fontSize":58,"align":"right","baseline":"alphabetic","angle":270,"dx":12,"dy":-90,"fill":"black"},
"encoding":{"x":{"datum":0,"type":"quantitative","scale":{"domain":[0,21],"nice":false,"zero":false},"axis":null},
"y":{"field":"p","type":"quantitative","scale":{"domain":[0,21],"nice":false,"zero":false,"reverse":true},"axis":null},"text":{"field":"m","type":"nominal"}}},
{"data":{"name":"par"},"transform":[{"filter":"datum.i > 0 && datum.m == 'Ω'"}],
"mark":{"type":"text","font":"DejaVu Sans","fontSize":58,"align":"right","baseline":"alphabetic","angle":270,"dx":12,"dy":-90,"fill":"black"},
"encoding":{"x":{"datum":0,"type":"quantitative","scale":{"domain":[0,21],"nice":false,"zero":false},"axis":null},
"y":{"field":"p","type":"quantitative","scale":{"domain":[0,21],"nice":false,"zero":false,"reverse":true},"axis":null},"text":{"field":"m","type":"nominal"}}},
{"data":{"name":"par"},"transform":[{"filter":"datum.i > 0 && datum.s >= 'a'"}],
"mark":{"type":"text","font":"DejaVu Sans","fontStyle":"italic","fontSize":41,"align":"left","baseline":"alphabetic","angle":270,"dx":12,"dy":-82,"fill":"black"},
"encoding":{"x":{"datum":0,"type":"quantitative","scale":{"domain":[0,21],"nice":false,"zero":false},"axis":null},
"y":{"field":"p","type":"quantitative","scale":{"domain":[0,21],"nice":false,"zero":false,"reverse":true},"axis":null},"text":{"field":"s","type":"nominal"}}},
{"data":{"name":"par"},"transform":[{"filter":"datum.i > 0 && datum.s >= '0' && datum.s <= '9'"}],
"mark":{"type":"text","font":"DejaVu Sans","fontSize":41,"align":"left","baseline":"alphabetic","angle":270,"dx":12,"dy":-82,"fill":"black"},
"encoding":{"x":{"datum":0,"type":"quantitative","scale":{"domain":[0,21],"nice":false,"zero":false},"axis":null},
"y":{"field":"p","type":"quantitative","scale":{"domain":[0,21],"nice":false,"zero":false,"reverse":true},"axis":null},"text":{"field":"s","type":"nominal"}}},
{"data":{"values":[{"s":"Posterior"},{"s":"Concentrated flow"}]},
"mark":{"type":"point","filled":true,"opacity":0},
"encoding":{"x":{"datum":10,"type":"quantitative","scale":{"domain":[0,21],"nice":false,"zero":false},"axis":null},
"y":{"datum":10,"type":"quantitative","scale":{"domain":[0,21],"nice":false,"zero":false,"reverse":true},"axis":null},
"fill":{"field":"s","type":"nominal","scale":{"domain":["Posterior","Concentrated flow"],"range":["#ff0000","#4388be"]},
"legend":{"orient":"none","legendX":1142,"legendY":-2,"title":null,"direction":"vertical","symbolType":"M-1,-1H4.57V1H-1Z","symbolSize":5476,"symbolStrokeWidth":0,"symbolOpacity":1,"labelFont":"DejaVu Sans","labelFontSize":100,"labelColor":"black","labelLimit":0,"labelOffset":185,"rowPadding":48,"padding":36,"strokeColor":"#d4d4d4","cornerRadius":10,"fillColor":"#ffffff"}}}}
]
}
